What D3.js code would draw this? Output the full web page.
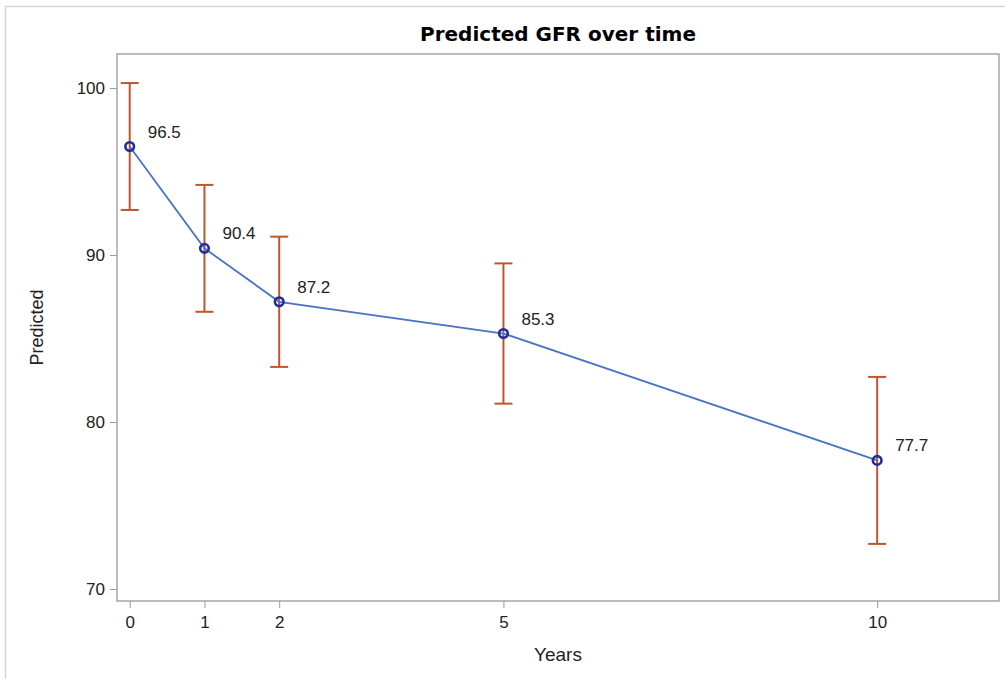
<!DOCTYPE html>
<html>
<head>
<meta charset="utf-8">
<script src="https://cdn.jsdelivr.net/npm/d3@7"></script>
<style>
  body { margin: 0; background: #fff; }
  svg { font-family: "Liberation Sans", Arial, sans-serif; }
</style>
</head>
<body>
<svg id="chart"></svg>
<script>
// data
const years = [0, 1, 2, 5, 10];
const predicted = [96.5, 90.4, 87.2, 85.3, 77.7];
const upper = [100.3, 94.2, 91.1, 89.5, 82.7];
const lower = [92.7, 86.6, 83.3, 81.1, 72.7];
const xTicks = [0, 1, 2, 5, 10];
const yTicks = [70, 80, 90, 100];

const W = 1005, H = 679;
const plot = { left: 117, top: 54, right: 999, bottom: 601 };

const svg = d3.select("#chart").attr("width", W).attr("height", H);

// outer frame
svg.append("path")
  .attr("d", `M5.5,${H} V6.5 H${W}`)
  .attr("fill", "none")
  .attr("stroke", "#d6d6d6")
  .attr("stroke-width", 1.5);

const x = d3.scaleLinear().domain([-0.17, 11.63]).range([plot.left, plot.right]);
const y = d3.scaleLinear().domain([69.28, 102.04]).range([plot.bottom, plot.top]);

// plot frame
svg.append("rect")
  .attr("x", plot.left).attr("y", plot.top)
  .attr("width", plot.right - plot.left).attr("height", plot.bottom - plot.top)
  .attr("fill", "none").attr("stroke", "#a6a6a6").attr("stroke-width", 1.5);

// axes
const xAxis = svg.append("g")
  .attr("transform", `translate(0,${plot.bottom})`)
  .call(d3.axisBottom(x).tickValues(xTicks).tickSize(7).tickPadding(8).tickFormat(d3.format("d")));
xAxis.select(".domain").remove();

const yAxis = svg.append("g")
  .attr("transform", `translate(${plot.left},0)`)
  .call(d3.axisLeft(y).tickValues(yTicks).tickSize(7).tickPadding(5).tickFormat(d3.format("d")));
yAxis.select(".domain").remove();

svg.selectAll(".tick line").attr("stroke", "#9a9a9a");
svg.selectAll(".tick text").attr("fill", "#222").style("font-size", "17px");

// title and axis labels
svg.append("text")
  .attr("x", (plot.left + plot.right) / 2).attr("y", 41)
  .attr("text-anchor", "middle")
  .style("font-family", "'DejaVu Sans', sans-serif")
  .style("font-size", "20px").style("font-weight", "bold")
  .attr("fill", "#000")
  .text("Predicted GFR over time");

svg.append("text")
  .attr("x", (plot.left + plot.right) / 2).attr("y", 661)
  .attr("text-anchor", "middle")
  .style("font-size", "19px").attr("fill", "#222")
  .text("Years");

svg.append("text")
  .attr("transform", `translate(43,${(plot.top + plot.bottom) / 2}) rotate(-90)`)
  .attr("text-anchor", "middle")
  .style("font-size", "18px").attr("fill", "#222")
  .text("Predicted");

const data = years.map((d, i) => ({ year: d, value: predicted[i], hi: upper[i], lo: lower[i] }));

// error bars
const errColor = "#bf5530";
const bars = svg.append("g").selectAll("g").data(data).enter().append("g");
bars.append("line")
  .attr("x1", d => x(d.year)).attr("x2", d => x(d.year))
  .attr("y1", d => y(d.hi)).attr("y2", d => y(d.lo))
  .attr("stroke", errColor).attr("stroke-width", 2);
bars.append("line")
  .attr("x1", d => x(d.year) - 9).attr("x2", d => x(d.year) + 9)
  .attr("y1", d => y(d.hi)).attr("y2", d => y(d.hi))
  .attr("stroke", errColor).attr("stroke-width", 2);
bars.append("line")
  .attr("x1", d => x(d.year) - 9).attr("x2", d => x(d.year) + 9)
  .attr("y1", d => y(d.lo)).attr("y2", d => y(d.lo))
  .attr("stroke", errColor).attr("stroke-width", 2);

// line
const line = d3.line().x(d => x(d.year)).y(d => y(d.value));
svg.append("path")
  .datum(data)
  .attr("d", line)
  .attr("fill", "none")
  .attr("stroke", "#4a72c8")
  .attr("stroke-width", 1.8);

// markers
svg.append("g").selectAll("circle").data(data).enter().append("circle")
  .attr("cx", d => x(d.year)).attr("cy", d => y(d.value))
  .attr("r", 4.3)
  .attr("fill", "none")
  .attr("stroke", "#1c2f9c")
  .attr("stroke-width", 2.6);

// value labels
svg.append("g").selectAll("text").data(data).enter().append("text")
  .attr("x", d => x(d.year) + 18).attr("y", d => y(d.value) - 9)
  .style("font-size", "17px").attr("fill", "#222")
  .text(d => d.value.toFixed(1));
</script>
</body>
</html>
